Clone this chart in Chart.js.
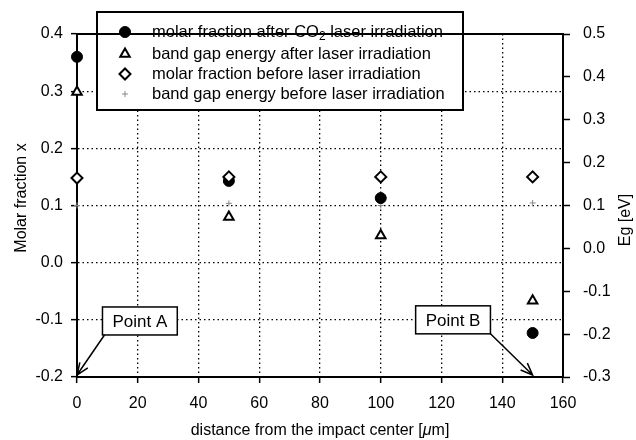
<!DOCTYPE html>
<html>
<head>
<meta charset="utf-8">
<script src="https://cdn.jsdelivr.net/npm/chart.js@4.4.1/dist/chart.umd.min.js"></script>
<style>
  html, body { margin: 0; padding: 0; background: #fff; }
  #wrap { width: 636px; height: 440px; }
</style>
</head>
<body>
<div id="wrap"><canvas id="myChart" width="636" height="440"></canvas></div>
<script>
// distance from the impact center [um]
const distances = [0, 50, 100, 150];

// left axis: molar fraction x
const molarAfter = [0.36, 0.143, 0.113, -0.123];
const molarBefore = [0.148, 0.15, 0.15, 0.15];

// right axis: Eg [eV]
const bandGapAfter = [0.365, 0.073, 0.03, -0.122];
const bandGapBefore = [0.1, 0.105, 0.1, 0.106];

const seriesLabels = [
  "molar fraction after CO₂ laser irradiation",
  "band gap energy after laser irradiation",
  "molar fraction before laser irradiation",
  "band gap energy before laser irradiation",
];

const xTicks = [0, 20, 40, 60, 80, 100, 120, 140, 160];
const leftTicks = [-0.2, -0.1, 0.0, 0.1, 0.2, 0.3, 0.4];
const rightTicks = [-0.3, -0.2, -0.1, 0.0, 0.1, 0.2, 0.3, 0.4, 0.5];

const callouts = [
  { text: "Point A", x: 20.7, y: -0.102, tipX: 0, tipY: -0.2 },
  { text: "Point B", x: 123.8, y: -0.1, tipX: 150, tipY: -0.2 },
];

const FONT = '"Liberation Sans", Arial, Helvetica, sans-serif';

function pts(ys) {
  return distances.map((d, i) => ({ x: d, y: ys[i] }));
}

// gridlines only inside the frame, dotted
const innerGrid = (min, max) => (ctx) => {
  const v = ctx.tick ? ctx.tick.value : null;
  if (v === null || Math.abs(v - min) < 1e-9 || Math.abs(v - max) < 1e-9) return "rgba(0,0,0,0)";
  return "#000";
};

// Legend in a white box, drawn by hand (needs CO2 subscript)
const boxLegend = {
  id: "boxLegend",
  afterDatasetsDraw(chart) {
    const ctx = chart.ctx;
    const box = { left: 97, top: 12, right: 463, bottom: 110 };
    const rows = [32, 54, 74, 94];
    ctx.save();
    ctx.fillStyle = "#fff";
    ctx.fillRect(box.left, box.top, box.right - box.left, box.bottom - box.top);
    ctx.strokeStyle = "#000";
    ctx.lineWidth = 2;
    ctx.strokeRect(box.left, box.top, box.right - box.left, box.bottom - box.top);

    chart.data.datasets.forEach((ds, i) => {
      const y = rows[i];
      ctx.fillStyle = ds.backgroundColor;
      ctx.strokeStyle = ds.borderColor;
      ctx.lineWidth = ds.borderWidth;
      Chart.helpers.drawPoint(ctx, {
        pointStyle: ds.pointStyle,
        radius: ds.pointRadius,
        borderWidth: ds.borderWidth,
        rotation: 0,
      }, 125, y);

      ctx.fillStyle = "#000";
      ctx.textBaseline = "middle";
      ctx.textAlign = "left";
      ctx.font = "16.5px " + FONT;
      const parts = seriesLabels[i].split("₂");
      let x = 152;
      ctx.fillText(parts[0], x, y);
      if (parts.length > 1) {
        x += ctx.measureText(parts[0]).width;
        ctx.font = "12px " + FONT;
        ctx.fillText("2", x, y + 5);
        x += ctx.measureText("2").width;
        ctx.font = "16.5px " + FONT;
        ctx.fillText(parts[1], x, y);
      }
    });
    ctx.restore();
  },
};

// Point A / Point B boxes with arrows
const calloutPlugin = {
  id: "callouts",
  afterDatasetsDraw(chart) {
    const ctx = chart.ctx;
    const sx = chart.scales.x;
    const sy = chart.scales.y;
    ctx.save();
    ctx.font = "17px " + FONT;
    callouts.forEach((c) => {
      const cx = sx.getPixelForValue(c.x);
      const cy = sy.getPixelForValue(c.y);
      const w = ctx.measureText(c.text).width + 20;
      const h = 28;
      const l = cx - w / 2, t = cy - h / 2;
      ctx.fillStyle = "#fff";
      ctx.fillRect(l, t, w, h);
      ctx.strokeStyle = "#000";
      ctx.lineWidth = 1.5;
      ctx.strokeRect(l, t, w, h);
      ctx.fillStyle = "#000";
      ctx.textAlign = "center";
      ctx.textBaseline = "middle";
      ctx.fillText(c.text, cx, cy + 1);

      const tx = sx.getPixelForValue(c.tipX);
      const ty = sy.getPixelForValue(c.tipY) - 2;
      const x0 = tx < cx ? l + 2 : l + w;
      const y0 = t + h;
      ctx.beginPath();
      ctx.moveTo(x0, y0);
      ctx.lineTo(tx, ty);
      const a = Math.atan2(ty - y0, tx - x0);
      const len = 13, spread = 0.38;
      ctx.moveTo(tx - len * Math.cos(a - spread), ty - len * Math.sin(a - spread));
      ctx.lineTo(tx, ty);
      ctx.lineTo(tx - len * Math.cos(a + spread), ty - len * Math.sin(a + spread));
      ctx.stroke();
    });
    ctx.restore();
  },
};

// Frame top line and axis titles
const framePlugin = {
  id: "frame",
  afterDraw(chart) {
    const ctx = chart.ctx;
    const a = chart.chartArea;
    ctx.save();
    ctx.strokeStyle = "#000";
    ctx.lineWidth = 2;
    ctx.beginPath();
    ctx.moveTo(a.left, a.top);
    ctx.lineTo(a.right, a.top);
    ctx.stroke();

    ctx.fillStyle = "#000";
    ctx.textAlign = "center";
    ctx.textBaseline = "middle";
    ctx.font = "16px " + FONT;

    ctx.save();
    ctx.translate(22, 198);
    ctx.rotate(-Math.PI / 2);
    ctx.fillText("Molar fraction x", 0, 0);
    ctx.restore();

    ctx.save();
    ctx.translate(626, 220);
    ctx.rotate(-Math.PI / 2);
    ctx.fillText("Eg [eV]", 0, 0);
    ctx.restore();

    // x title with italic mu
    const p1 = "distance from the impact center [";
    const p2 = "μ";
    const p3 = "m]";
    const w1 = ctx.measureText(p1).width;
    ctx.font = "italic 16px " + FONT;
    const w2 = ctx.measureText(p2).width;
    ctx.font = "16px " + FONT;
    const w3 = ctx.measureText(p3).width;
    let x = (a.left + a.right) / 2 - (w1 + w2 + w3) / 2;
    const y = 431;
    ctx.textAlign = "left";
    ctx.fillText(p1, x, y);
    x += w1;
    ctx.font = "italic 16px " + FONT;
    ctx.fillText(p2, x, y);
    x += w2;
    ctx.font = "16px " + FONT;
    ctx.fillText(p3, x, y);
    ctx.restore();
  },
};

const tickFont = { family: FONT, size: 16 };

const ctx = document.getElementById("myChart").getContext("2d");

window.myChart = new Chart(ctx, {
  type: "scatter",
  data: {
    datasets: [
      {
        label: seriesLabels[0],
        data: pts(molarAfter),
        yAxisID: "y",
        pointStyle: "circle",
        pointRadius: 5.5,
        backgroundColor: "#000",
        borderColor: "#000",
        borderWidth: 1,
        order: 2,
      },
      {
        label: seriesLabels[1],
        data: pts(bandGapAfter),
        yAxisID: "y2",
        pointStyle: "triangle",
        pointRadius: 5.5,
        backgroundColor: "#fff",
        borderColor: "#000",
        borderWidth: 2,
        order: 1,
      },
      {
        label: seriesLabels[2],
        data: pts(molarBefore),
        yAxisID: "y",
        pointStyle: "rectRot",
        pointRadius: 5.5,
        backgroundColor: "#fff",
        borderColor: "#000",
        borderWidth: 2,
        order: 0,
      },
      {
        label: seriesLabels[3],
        data: pts(bandGapBefore),
        yAxisID: "y2",
        pointStyle: "cross",
        pointRadius: 3,
        backgroundColor: "#888",
        borderColor: "#888",
        borderWidth: 1,
        order: 3,
      },
    ],
  },
  options: {
    responsive: false,
    animation: false,
    devicePixelRatio: 1,
    clip: false,
    layout: { padding: { top: 34, left: 0, right: 0, bottom: 0 } },
    plugins: {
      legend: { display: false },
      tooltip: { enabled: false },
    },
    elements: { point: { hoverRadius: 5.5 } },
    scales: {
      x: {
        type: "linear",
        position: "bottom",
        min: 0,
        max: 160,
        afterBuildTicks: (s) => { s.ticks = xTicks.map((v) => ({ value: v })); },
        afterFit: (s) => { s.height = 63; },
        ticks: { font: tickFont, color: "#000", padding: 11, maxRotation: 0, autoSkip: false },
        grid: {
          color: innerGrid(0, 160),
          lineWidth: 1.3,
          tickLength: 6,
          tickColor: "#000",
          tickWidth: 1.5,
          tickBorderDash: [],
        },
        border: { color: "#000", width: 2, dash: [1.5, 3] },
      },
      y: {
        type: "linear",
        position: "left",
        min: -0.2,
        max: 0.4,
        afterBuildTicks: (s) => { s.ticks = leftTicks.map((v) => ({ value: v })); },
        afterFit: (s) => { s.width = 77; },
        ticks: {
          font: tickFont,
          color: "#000",
          padding: 8,
          autoSkip: false,
          callback: (v) => Number(v).toFixed(1),
        },
        grid: {
          color: innerGrid(-0.2, 0.4),
          lineWidth: 1.3,
          tickLength: 6,
          tickColor: "#000",
          tickWidth: 1.5,
          tickBorderDash: [],
        },
        border: { color: "#000", width: 2, dash: [1.5, 3] },
      },
      y2: {
        type: "linear",
        position: "right",
        min: -0.3,
        max: 0.5,
        afterBuildTicks: (s) => { s.ticks = rightTicks.map((v) => ({ value: v })); },
        afterFit: (s) => { s.width = 73; },
        ticks: {
          font: tickFont,
          color: "#000",
          padding: 13,
          crossAlign: "near",
          autoSkip: false,
          callback: (v) => Number(v).toFixed(1),
        },
        grid: {
          drawOnChartArea: false,
          tickLength: 7,
          tickColor: "#000",
          tickWidth: 1.5,
        },
        border: { color: "#000", width: 2 },
      },
    },
  },
  plugins: [boxLegend, calloutPlugin, framePlugin],
});
</script>
</body>
</html>
